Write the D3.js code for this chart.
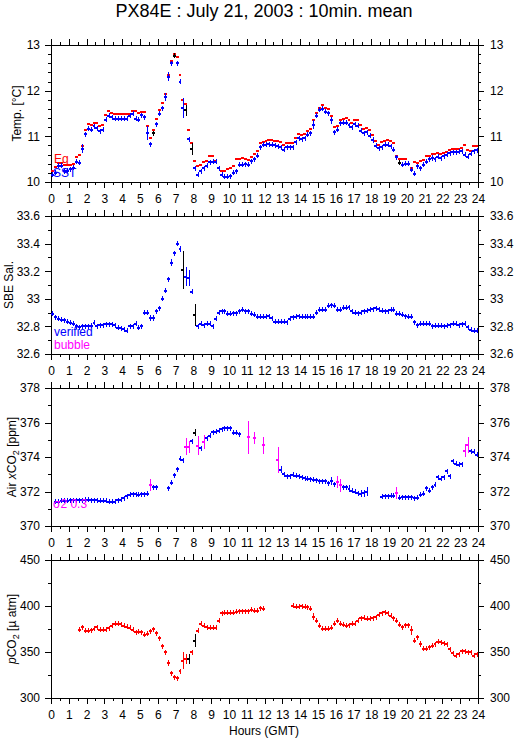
<!DOCTYPE html>
<html>
<head>
<meta charset="utf-8">
<script src="https://cdn.jsdelivr.net/npm/d3@7"></script>
<style>
  body { margin: 0; background: #fff; }
  svg text { font-family: "Liberation Sans", Arial, Helvetica, sans-serif; }
</style>
</head>
<body>
<svg id="chart" width="515" height="739"></svg>
<script>
// 10-minute means, index i covers hours i/6 .. (i+1)/6
const hourTicks = d3.range(0, 25);

const sst = [
  10.16, 10.2, 10.36, 10.36, 10.23, 10.25,
  10.28, 10.31, 10.44, 10.42, 10.73, 11.05,
  11.17, 11.14, 11.22, 11.18, 11.11, 11.14,
  11.36, 11.45, 11.42, 11.38, 11.38, 11.38,
  11.38, 11.39, 11.45, 11.49, 11.38, 11.36,
  11.46, 11.42, 11.07, 10.83, 11.07, 11.27,
  11.49, 11.61, 11.86, 12.31, 12.6, 12.76,
  12.6, 12.2, 11.62, 11.57, 10.94, 10.72,
  10.3, 10.16, 10.23, 10.3, 10.36, 10.43,
  10.44, 10.44, 10.3, 10.16, 10.11, 10.11,
  10.13, 10.2, 10.23, 10.38, 10.38, 10.39,
  10.38, 10.45, 10.5, 10.58, 10.76, 10.82,
  10.82, 10.83, 10.82, 10.8, 10.78, 10.76,
  10.71, 10.76, 10.76, 10.76, 10.87, 10.96,
  10.94, 10.96, 11.03, 11.07, 11.25, 11.45,
  11.58, 11.6, 11.54, 11.51, 11.35, 11.09,
  11.14, 11.29, 11.3, 11.3, 11.24, 11.2,
  11.27, 11.23, 11.12, 11.07, 11.09, 11.01,
  10.92, 10.79, 10.74, 10.76, 10.82, 10.82,
  10.78, 10.71, 10.54, 10.42, 10.38, 10.4,
  10.4, 10.27, 10.18, 10.34, 10.3, 10.38,
  10.44, 10.5, 10.52, 10.5, 10.55, 10.52,
  10.56, 10.6, 10.63, 10.65, 10.65, 10.66,
  10.67, 10.6, 10.55, 10.62, 10.67, 10.69
];
const sstSd = [[10, 0.1], [11, 0.05], [32, 0.15], [33, 0.05], [37, 0.05], [38, 0.08], [39, 0.1],
  [40, 0.06], [43, 0.06], [44, 0.22], [45, 0.12], [47, 0.13], [48, 0.05], [88, 0.1], [94, 0.07], [108, 0.06], [122, 0.05], [128, 0.07]];
const sstBlack = [34, 41, 45, 47, 117];

const eq = [
  10.25, 10.32, 10.42, 10.42, 10.38, 10.38,
  10.38, 10.4, 10.55, 10.6, 10.78, 11.13,
  11.27, 11.25, 11.3, 11.3, 11.22, 11.25,
  11.47, 11.56, 11.52, 11.48, 11.48, 11.5,
  11.48, 11.5, 11.5, 11.55, 11.56, 11.52,
  11.54, 11.54, 11.22, 10.97, 11.13, 11.37,
  11.58, 11.72, 11.92, 12.35, 12.66, 12.81,
  12.74, 12.35, 11.8, 11.7, 11.14, 10.85,
  10.46, 10.35, 10.37, 10.43, 10.47, 10.56,
  10.56, 10.46, 10.3, 10.24, 10.24, 10.28,
  10.3, 10.35, 10.5, 10.5, 10.52, 10.5,
  10.48, 10.55, 10.62, 10.68, 10.86, 10.88,
  10.9, 10.93, 10.93, 10.9, 10.9, 10.88,
  10.8, 10.86, 10.86, 10.86, 10.96, 11.06,
  11.04, 11.06, 11.12, 11.17, 11.35, 11.52,
  11.62, 11.68, 11.61, 11.59, 11.44, 11.2,
  11.22, 11.36, 11.38, 11.4, 11.35, 11.3,
  11.36, 11.35, 11.25, 11.17, 11.18, 11.14,
  11.03, 10.9, 10.82, 10.87, 10.9, 10.92,
  10.89, 10.85, 10.58, 10.51, 10.5, 10.5,
  10.4, 10.3, 10.44, 10.42, 10.46, 10.48,
  10.56, 10.58, 10.62, 10.62, 10.64, 10.62,
  10.64, 10.66, 10.7, 10.73, 10.73, 10.73,
  10.74, 10.8, 10.7, 10.68, 10.78, 10.78
];

const sal = [
  32.89, 32.865, 32.855, 32.85, 32.845, 32.835,
  32.825, 32.82, 32.8, 32.795, 32.8, 32.8,
  32.8, 32.805, 32.825, 32.8, 32.81, 32.81,
  32.815, 32.815, 32.815, 32.81, 32.79, 32.785,
  32.78, 32.77, 32.8, 32.8, 32.82, 32.79,
  32.8, 32.9, 32.9, 32.86, 32.86, 32.91,
  32.93, 33.0, 33.06, 33.14, 33.26, 33.33,
  33.4, 33.36, 33.21, 33.16, 33.15, 33.05,
  32.88, 32.8, 32.82, 32.81, 32.82, 32.82,
  32.8, 32.855, 32.9, 32.91, 32.91, 32.89,
  32.89, 32.895, 32.895, 32.91, 32.92, 32.91,
  32.91, 32.89, 32.885, 32.87, 32.87, 32.87,
  32.87, 32.875, 32.86, 32.835, 32.835, 32.835,
  32.835, 32.83, 32.855, 32.865, 32.87, 32.875,
  32.87, 32.87, 32.87, 32.87, 32.87, 32.9,
  32.92, 32.92, 32.92, 32.95, 32.955, 32.95,
  32.92, 32.92, 32.935, 32.935, 32.94, 32.91,
  32.9, 32.895, 32.9, 32.91, 32.915, 32.92,
  32.925, 32.93, 32.925, 32.915, 32.91, 32.91,
  32.92, 32.92, 32.89, 32.89, 32.885, 32.875,
  32.87, 32.87, 32.83, 32.81, 32.82, 32.82,
  32.82, 32.82, 32.8, 32.805, 32.805, 32.805,
  32.8, 32.805, 32.81, 32.82, 32.82, 32.81,
  32.815, 32.82, 32.795, 32.775, 32.77, 32.77
];
const salSd = [[31, 0.02], [33, 0.02], [34, 0.02], [37, 0.015], [39, 0.02], [40, 0.025], [41, 0.02],
  [43, 0.02], [44, 0.14], [45, 0.07], [46, 0.06], [48, 0.08], [56, 0.02]];
const salBlack = [44, 48];

const xco2 = [
  null, 371.4, 371.4, 371.45, 371.45, 371.45,
  371.48, 371.5, 371.5, 371.5, 371.5, 371.52,
  371.52, 371.5, 371.48, 371.48, 371.46, 371.46,
  371.45, 371.42, 371.4, 371.42, 371.48, 371.52,
  371.6, 371.72, 371.82, 371.85, 371.85, 371.82,
  371.85, 371.85, 371.88, 372.4, 372.25, 372.25,
  null, null, null, 372.2, 372.5, 372.95,
  373.3, 373.9, 373.8, 374.6, 374.6, 374.9,
  375.4, 374.65, 374.5, 374.85, 375.1, 375.23,
  375.43, 375.45, 375.52, 375.62, 375.68, 375.68,
  375.68, 375.4, 375.4, 375.33, null, null,
  375.15, null, 375.1, null, null, 374.67,
  null, null, null, null, 373.84, 373.26,
  373.0, 372.87, 372.87, 372.97, 372.92, 372.87,
  372.83, 372.77, 372.74, 372.7, 372.68, 372.64,
  372.6, 372.58, 372.58, 372.48, 372.6, 372.42,
  372.54, 372.35, 372.25, 372.25, 372.15, 372.05,
  372.0, 371.9, 371.86, 371.9, 372.0, null,
  null, null, null, 371.7, 371.72, 371.72,
  371.75, 371.75, 371.9, 371.65, 371.67, 371.67,
  371.67, 371.66, 371.6, 371.65, 371.8, 371.86,
  372.2, 372.05, 372.25, 372.38, 372.83, 372.73,
  372.83, 373.16, 372.87, 373.74, 373.6, 373.55,
  373.58, 374.36, 374.7, 374.32, 374.3, 374.13
];
const xco2Sd = [[33, 0.35], [40, 0.15], [41, 0.1], [43, 0.15], [45, 0.5], [46, 0.35], [48, 0.2],
  [49, 0.55], [51, 0.4], [66, 0.95], [68, 0.35], [71, 0.5], [76, 0.75], [77, 0.2], [94, 0.25],
  [96, 0.35], [97, 0.35], [100, 0.2], [104, 0.2], [105, 0.2], [106, 0.28], [116, 0.35],
  [133, 0.17], [135, 0.1], [139, 0.37], [140, 0.47]];
const xco2Black = [48];

const pco2 = [
  null, null, null, null, null, null,
  null, null, null, 374, 377, 373,
  373, 373.7, 375.5, 377, 374, 374,
  374, 376, 378.8, 380.6, 380.6, 380.2,
  378.4, 377.7, 376.3, 374, 371.2, 372,
  371.5, 368.7, 369.8, 372.6, 374.8, 370.5,
  364.7, 356, 349.9, 338, 327, 322.4,
  321.7, 328.9, 340.5, 342.3, 342.3, 349.5,
  362.5, 373, 380.6, 378.4, 377, 376.3,
  376.3, 376.3, 384.2, 392.2, 392.9, 392.9,
  392.9, 392.9, 394, 394.3, 394.3, 394.3,
  394.3, 395.8, 394.7, 394.7, 397.6, 396.9,
  null, null, null, null, null, null,
  null, null, null, 400.1, 399, 399,
  399.7, 399, 398.7, 396.9, 388.5, 383.8,
  378.4, 375.2, 375.2, 375.5, 376.6, 380.6,
  383.8, 380.6, 379.5, 378.4, 379.1, 380.6,
  380.6, 383.8, 386.7, 387.1, 386, 386,
  386.7, 387.8, 390.7, 392.2, 393.2, 392.2,
  389.6, 386.7, 384.2, 379.5, 377, 379.1,
  379.1, 373.4, 362.2, 366.1, 358.5, 353.8,
  353.8, 354.9, 356.7, 358.5, 361.1, 360.7,
  359.6, 358.5, 353.1, 348.8, 345.9, 347.7,
  350.6, 350.6, 349.9, 349.5, 345.9, 347.7
];
const pco2Sd = [[33, 2], [36, 2], [37, 2.5], [39, 3.5], [40, 2], [44, 9], [45, 5], [46, 5],
  [48, 7], [56, 3], [88, 4], [121, 5], [124, 3]];
const pco2Black = [46, 48];

const BLUE = "#0000ff", RED = "#ff0000", MAGENTA = "#ff00ff";
const FONT = "Liberation Sans, Arial, Helvetica, sans-serif";

const svg = d3.select("#chart");
const x = d3.scaleLinear().domain([0, 24]).range([51, 478]);

svg.append("text")
  .attr("x", 264).attr("y", 17)
  .attr("text-anchor", "middle")
  .attr("font-size", 18)
  .text("PX84E : July 21, 2003 : 10min. mean");

function steps(lo, hi, step) {
  const n = Math.round((hi - lo) / step);
  return d3.range(n + 1).map(k => +(lo + k * step).toFixed(4));
}

function styleAxis(sel) {
  sel.attr("font-size", 12).attr("font-family", FONT);
  sel.select(".domain").remove();
  sel.selectAll("line").attr("shape-rendering", "crispEdges");
  sel.selectAll("text").attr("fill", "#000");
}

function drawPanel(p) {
  const y = d3.scaleLinear().domain(p.domain).range([p.bottom, p.top]);
  const g = svg.append("g");

  // hour axes (top without labels, bottom with labels)
  const halfHours = steps(0, 24, 0.5).filter(v => v % 1 !== 0);
  g.append("g").attr("transform", `translate(0,${p.top})`)
    .call(d3.axisTop(x).tickValues(hourTicks).tickSize(6).tickSizeOuter(0).tickFormat(""))
    .call(styleAxis);
  g.append("g").attr("transform", `translate(0,${p.top})`)
    .call(d3.axisTop(x).tickValues(halfHours).tickSize(3).tickSizeOuter(0).tickFormat(""))
    .call(styleAxis);
  g.append("g").attr("transform", `translate(0,${p.bottom})`)
    .call(d3.axisBottom(x).tickValues(hourTicks).tickSize(6).tickSizeOuter(0).tickPadding(6).tickFormat(d3.format("d")))
    .call(styleAxis);
  g.append("g").attr("transform", `translate(0,${p.bottom})`)
    .call(d3.axisBottom(x).tickValues(halfHours).tickSize(3).tickSizeOuter(0).tickFormat(""))
    .call(styleAxis);

  // value axes
  const minor = steps(p.domain[0], p.domain[1], p.minor).filter(v => !p.ticks.some(t => Math.abs(t - v) < 1e-6));
  g.append("g").attr("transform", `translate(${x(0)},0)`)
    .call(d3.axisLeft(y).tickValues(p.ticks).tickSize(6).tickSizeOuter(0).tickPadding(5).tickFormat(p.fmt))
    .call(styleAxis);
  g.append("g").attr("transform", `translate(${x(0)},0)`)
    .call(d3.axisLeft(y).tickValues(minor).tickSize(3).tickSizeOuter(0).tickFormat(""))
    .call(styleAxis);
  g.append("g").attr("transform", `translate(${x(24)},0)`)
    .call(d3.axisRight(y).tickValues(p.ticks).tickSize(6).tickSizeOuter(0).tickPadding(6).tickFormat(p.fmt))
    .call(styleAxis);
  g.append("g").attr("transform", `translate(${x(24)},0)`)
    .call(d3.axisRight(y).tickValues(minor).tickSize(3).tickSizeOuter(0).tickFormat(""))
    .call(styleAxis);

  g.append("rect")
    .attr("x", x(0) + 0.5).attr("y", p.top + 0.5)
    .attr("width", x(24) - x(0)).attr("height", p.bottom - p.top)
    .attr("fill", "none").attr("stroke", "#000").attr("stroke-width", 1)
    .attr("shape-rendering", "crispEdges");

  // data marks: 10-min bar plus vertical sd bar
  p.series.forEach(s => {
    const sdMap = new Map(s.sd || []);
    const pts = s.values.map((v, i) => ({ i, v, sd: sdMap.get(i) || 0 })).filter(d => d.v != null);
    const color = d => (s.black || []).includes(d.i) ? "#000" : (s.color(d));
    g.append("g").attr("shape-rendering", "crispEdges")
      .selectAll("line").data(pts).join("line")
      .attr("x1", d => x(d.i / 6)).attr("x2", d => x((d.i + 1) / 6))
      .attr("y1", d => y(d.v)).attr("y2", d => y(d.v))
      .attr("stroke", color).attr("stroke-width", 2);
    if (s.cross) {
      const arm = d => Math.max(y(d.v) - y(d.v + d.sd), 2.5);
      g.append("g").attr("shape-rendering", "crispEdges")
        .selectAll("line").data(pts).join("line")
        .attr("x1", d => Math.round(x((d.i + 0.5) / 6)) + 0.5).attr("x2", d => Math.round(x((d.i + 0.5) / 6)) + 0.5)
        .attr("y1", d => y(d.v) - arm(d))
        .attr("y2", d => y(d.v) + arm(d))
        .attr("stroke", color).attr("stroke-width", 1.2);
    }
  });

  // y label
  const lab = g.append("text")
    .attr("transform", `translate(${p.labelX},${(p.top + p.bottom) / 2}) rotate(-90)`)
    .attr("text-anchor", "middle").attr("font-size", 12);
  p.label.forEach(part => {
    const t = lab.append("tspan").text(part.t);
    if (part.italic) t.attr("font-style", "italic");
    if (part.sub) t.attr("font-size", 9).attr("dy", 3);
    if (part.after) t.attr("dy", -3);
  });

  (p.legend || []).forEach(l => {
    g.append("text").attr("x", l.x).attr("y", l.y).attr("font-size", 12)
      .attr("fill", l.color).text(l.text);
  });
}

drawPanel({
  top: 45, bottom: 182, domain: [10, 13], ticks: [10, 11, 12, 13], minor: 0.2, fmt: d3.format("d"),
  labelX: 21, label: [{ t: "Temp. [°C]" }],
  series: [
    { values: eq, color: () => RED, cross: false },
    { values: sst, sd: sstSd, black: sstBlack, color: () => BLUE, cross: true }
  ],
  legend: [{ text: "Eq", x: 54, y: 163, color: RED }, { text: "SST", x: 53, y: 177, color: BLUE }]
});

drawPanel({
  top: 216, bottom: 354, domain: [32.6, 33.6], ticks: [32.6, 32.8, 33, 33.2, 33.4, 33.6], minor: 0.1, fmt: d3.format("~g"),
  labelX: 13, label: [{ t: "SBE Sal." }],
  series: [{ values: sal, sd: salSd, black: salBlack, color: () => BLUE, cross: true }],
  legend: [{ text: "verified", x: 54, y: 336, color: BLUE }, { text: "bubble", x: 54, y: 349, color: MAGENTA }]
});

drawPanel({
  top: 388, bottom: 526, domain: [370, 378], ticks: [370, 372, 374, 376, 378], minor: 1, fmt: d3.format("d"),
  labelX: 16, label: [{ t: "Air " }, { t: "x", italic: true }, { t: "CO" }, { t: "2", sub: true }, { t: " [ppm]", after: true }],
  series: [{ values: xco2, sd: xco2Sd, black: xco2Black, color: d => d.sd > 0.3 ? MAGENTA : BLUE, cross: true }],
  legend: [{ text: "σ2 0.3", x: 53, y: 508, color: MAGENTA }]
});

drawPanel({
  top: 560, bottom: 698, domain: [300, 450], ticks: [300, 350, 400, 450], minor: 25, fmt: d3.format("d"),
  labelX: 16, label: [{ t: "p", italic: true }, { t: "CO" }, { t: "2", sub: true }, { t: " [µ atm]", after: true }],
  series: [{ values: pco2, sd: pco2Sd, black: pco2Black, color: () => RED, cross: true }]
});

svg.append("text")
  .attr("x", 264).attr("y", 735)
  .attr("text-anchor", "middle").attr("font-size", 12)
  .text("Hours (GMT)");
</script>
</body>
</html>
